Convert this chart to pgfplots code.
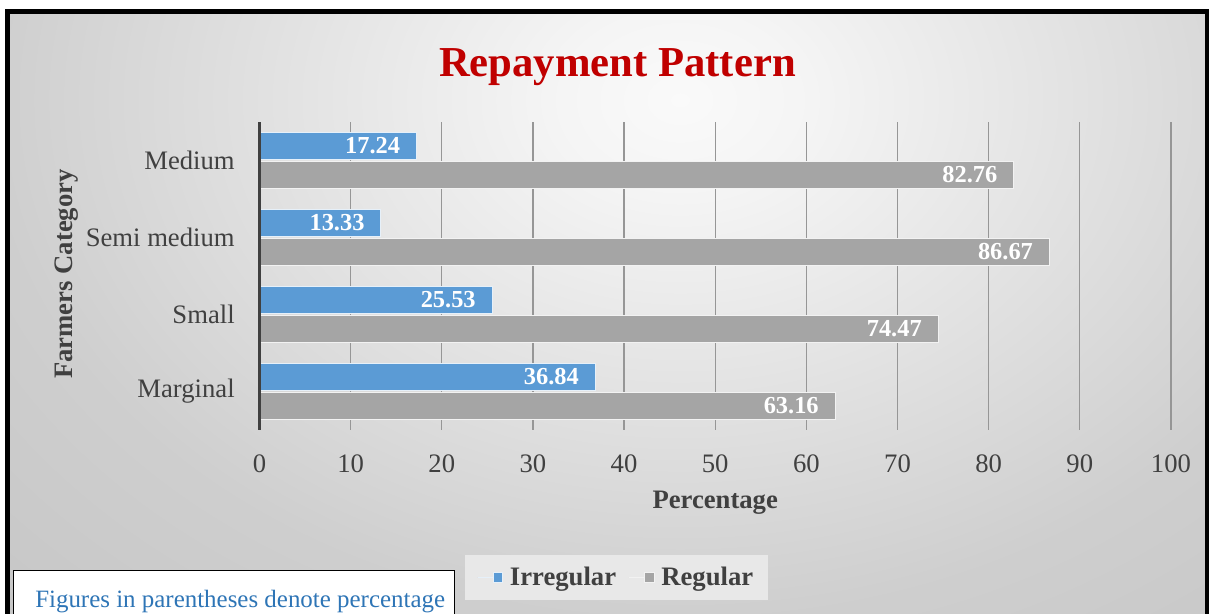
\documentclass[border=0pt]{standalone}
\usepackage{fontspec}
\setmainfont{Liberation Serif}
\usepackage{pgfplots}
\pgfplotsset{compat=1.18}
\definecolor{barblue}{RGB}{91,155,213}
\definecolor{bargray}{RGB}{165,165,165}
\definecolor{txtgray}{RGB}{64,64,64}
\definecolor{titlered}{RGB}{192,0,0}
\definecolor{gridgray}{RGB}{150,150,150}
\definecolor{noteblue}{RGB}{46,117,182}
\definecolor{legfill}{RGB}{232,232,232}
\pgfdeclareradialshading{bgshade}{\pgfpoint{0bp}{0bp}}{color(0bp)=(white!98!black); color(4bp)=(white!96!black); color(23bp)=(white!81!black); color(35bp)=(white!77!black); color(50bp)=(white!77!black)}
\begin{document}
\begin{tikzpicture}
\useasboundingbox (0,0) rectangle (908.25pt,460.5pt);
\clip (0,0) rectangle (908.25pt,460.5pt);
\fill[white] (0,0) rectangle (908.25pt,460.5pt);
\begin{scope}
\clip (5.6pt,-20pt) rectangle (905.3pt,451.9pt);
\shade[shading=bgshade] (-52.5pt,-34.5pt) rectangle (1072.5pt,805.5pt);
\end{scope}
\draw[line width=3.6pt, black] (5.6pt,-20pt) rectangle (905.3pt,451.9pt);
\node[anchor=base, text=titlered, font=\bfseries\fontsize{32}{38}\selectfont, inner sep=0pt] at (463.1pt,402.75pt) {Repayment Pattern};
\begin{axis}[
 at={(194.6pt,138pt)}, anchor=south west,
 scale only axis, width=683.6pt, height=231pt,
 xbar, bar width=0.355,
 xmin=0, xmax=100, ymin=-0.5, ymax=3.5,
 xtick={0,10,...,100}, ytick={0,1,2,3},
 yticklabels={Marginal,Small,Semi medium,Medium},
 major tick length=0pt,
 axis y line*=left, axis x line*=bottom,
 x axis line style={draw=none},
 y axis line style={draw=none},
 xmajorgrids, grid style={gridgray, line width=1pt},
 /pgf/number format/assume math mode=true,
 ticklabel style={font=\fontsize{20}{24}\selectfont, text=txtgray},
 xticklabel style={anchor=north, inner sep=0pt, yshift=-18.5pt},
 yticklabel style={anchor=east, inner sep=0pt, xshift=-18.4pt},
 xlabel={Percentage}, ylabel={Farmers Category},
 xlabel style={at={(axis description cs:0.5,0)}, anchor=base, yshift=-59.25pt, font=\bfseries\fontsize{20}{24}\selectfont, text=txtgray},
 ylabel style={at={(axis description cs:-0.2046,0.5065)}, anchor=base, font=\bfseries\fontsize{20}{24}\selectfont, text=txtgray},
 nodes near coords={\pgfmathprintnumber[fixed,fixed zerofill,precision=2,assume math mode=true]{\pgfplotspointmeta}},
 every node near coord/.append style={anchor=east, xshift=-12pt, inner sep=0pt, text=white, font=\bfseries\fontsize{18.3}{22}\selectfont},
 legend columns=2,
 legend style={at={(0.3917,-0.479)}, anchor=center, draw=none, fill=legfill, font=\bfseries\fontsize{20}{24}\selectfont, text=txtgray, inner xsep=9.25pt, inner ysep=7pt, /tikz/every odd column/.append style={column sep=3pt}, /tikz/every even column/.append style={column sep=7.25pt}},
 legend image code/.code={\path (-11.75pt,0) -- (0pt,0); \fill[#1] (0pt,-3.6pt) rectangle (7.2pt,3.6pt);},
 clip=false,
]
\addplot[fill=barblue, draw=white!85!barblue, line width=0.75pt, bar shift=0.188] coordinates {(36.84,0) (25.53,1) (13.33,2) (17.24,3)};
\addplot[fill=bargray, draw=white!85!bargray, line width=0.75pt, bar shift=-0.188] coordinates {(63.16,0) (74.47,1) (86.67,2) (82.76,3)};
\legend{Irregular, Regular}
\draw[txtgray, line width=2.2pt] (axis cs:0,-0.5) -- (axis cs:0,3.5);
\end{axis}
\draw[black, line width=0.75pt, fill=white] (9.75pt,-5pt) rectangle (340.5pt,32.25pt);
\node[anchor=base west, inner sep=0pt, text=noteblue, font=\fontsize{18.7}{22}\selectfont] at (26.25pt,4.5pt) {Figures in parentheses denote percentage};
\end{tikzpicture}
\end{document}
